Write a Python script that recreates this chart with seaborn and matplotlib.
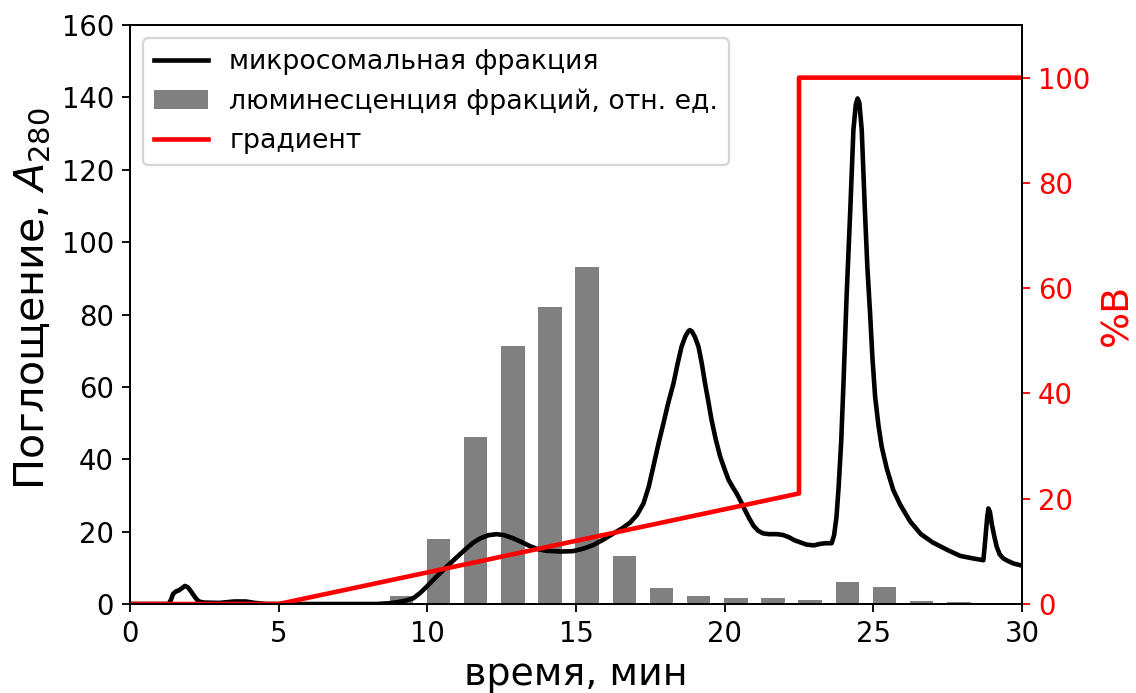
import numpy as np
import pandas as pd
import matplotlib
matplotlib.use("Agg")
import matplotlib.pyplot as plt
import seaborn as sns

# --- data ---
time_min = [0.0, 1.3, 1.38, 1.45, 1.55, 1.65, 1.75, 1.85, 1.95, 2.05, 2.15, 2.25, 2.35,
            2.5, 3.0, 3.5, 3.9, 4.2, 4.6,
            8.3, 8.7, 9.0, 9.3, 9.53, 9.75, 9.98, 10.3, 10.65, 11.0, 11.32, 11.55, 11.77,
            12.05, 12.33, 12.6, 12.9, 13.2, 13.45, 13.7, 14.0, 14.5, 14.9, 15.25, 15.58,
            15.9, 16.26, 16.55, 16.82, 17.05, 17.27, 17.45, 17.6, 17.78, 17.94, 18.1,
            18.28, 18.42, 18.55, 18.68, 18.78, 18.83, 18.9, 19.0, 19.12, 19.23, 19.34,
            19.45, 19.56, 19.7, 19.85, 20.0, 20.13, 20.27, 20.4, 20.54, 20.68, 20.83,
            20.97, 21.13, 21.3, 21.5, 21.75, 21.95, 22.15, 22.35, 22.55, 22.76, 23.0,
            23.2, 23.4, 23.6, 23.68, 23.76, 23.83, 23.92, 24.0, 24.1, 24.22, 24.33,
            24.41, 24.47, 24.53, 24.61, 24.72, 24.8, 24.89, 24.97, 25.06, 25.17, 25.28,
            25.45, 25.67, 25.9, 26.24, 26.6, 27.0, 27.5, 27.92, 28.35, 28.7, 28.74,
            28.79, 28.83, 28.87, 28.92, 28.98, 29.06, 29.15, 29.25, 29.37, 29.5, 29.71,
            30.0]
absorbance = [0.0, 0.0, 1.2, 2.8, 3.5, 3.8, 4.4, 5.0, 4.6, 3.5, 2.3, 1.2, 0.6,
              0.4, 0.3, 0.7, 0.7, 0.3, 0.0,
              0.0, 0.2, 0.5, 1.0, 1.6, 3.0, 4.8, 7.5, 10.3, 13.0, 15.4, 17.0, 18.1,
              19.0, 19.3, 19.0, 18.1, 17.0, 16.0, 15.2, 14.7, 14.5, 14.6, 15.3, 16.3,
              17.7, 19.5, 20.9, 22.5, 24.6, 27.8, 32.5, 38.0, 44.5, 49.9, 55.5,
              61.0, 66.5, 71.1, 74.0, 75.4, 75.7, 75.3, 73.8, 71.1, 66.5, 61.0,
              56.0, 50.8, 45.5, 40.7, 37.2, 34.3, 32.3, 30.6, 28.4, 26.0, 23.6,
              21.6, 20.2, 19.5, 19.3, 19.3, 19.1, 18.5, 17.6, 17.0, 16.4, 16.2,
              16.6, 16.8, 16.8, 19.0, 24.0, 32.0, 45.0, 61.9, 84.9, 108.0, 131.0,
              138.0, 139.7, 138.5, 131.0, 108.0, 93.0, 80.4, 68.0, 57.3, 49.5, 43.5,
              37.5, 31.5, 27.5, 22.8, 19.3, 17.0, 14.9, 13.3, 12.6, 12.1, 15.5,
              20.4, 24.0, 26.4, 25.5, 22.3, 19.0, 15.8, 13.7, 12.6, 12.0, 11.2,
              10.6]

fraction_time = [9.125, 10.375, 11.625, 12.875, 14.125, 15.375, 16.625, 17.875,
                 19.125, 20.375, 21.625, 22.875, 24.125, 25.375, 26.625, 27.875]
luminescence = [2.3, 18.0, 46.2, 71.3, 82.0, 93.1, 13.2, 4.3,
                2.3, 1.6, 1.6, 1.2, 6.2, 4.7, 0.8, 0.5]

gradient_time = [0.0, 5.0, 22.5, 22.5, 30.0]
gradient_pct = [0.0, 0.0, 21.0, 100.0, 100.0]

x_ticks = [0, 5, 10, 15, 20, 25, 30]

# --- figure ---
DPI = 165
fig = plt.figure(figsize=(1136 / DPI, 693 / DPI), dpi=DPI)
ax = fig.add_axes([130 / 1136, 1 - 604 / 693, (1022 - 130) / 1136, (604 - 25) / 693])
ax2 = ax.twinx()

df_line = pd.DataFrame({"t": time_min, "a": absorbance})
df_bar = pd.DataFrame({"t": fraction_time, "v": luminescence})
df_grad = pd.DataFrame({"t": gradient_time, "p": gradient_pct})

sns.barplot(data=df_bar, x="t", y="v", native_scale=True, width=0.63,
            color="gray", saturation=1, ax=ax, label="люминесценция фракций, отн. ед.",
            zorder=1)
sns.lineplot(data=df_line, x="t", y="a", color="black", linewidth=2.0,
             estimator=None, sort=False, ax=ax, label="микросомальная фракция", zorder=2)
sns.lineplot(data=df_grad, x="t", y="p", color="red", linewidth=2.0,
             estimator=None, sort=False, ax=ax2, label="градиент")

ax.set_xlim(0, 30)
ax.set_ylim(0, 160)
ax.set_xticks(x_ticks)
ax.set_xticklabels([str(v) for v in x_ticks])
ax2.set_ylim(0, 110)

ax.tick_params(labelsize=12)
ax2.tick_params(labelsize=12)
ax.set_xlabel("время, мин", fontsize=16.5)
ax.set_ylabel("Поглощение, $A_{280}$", fontsize=18, y=0.528)
ax2.set_ylabel("%B", fontsize=16.5, color="red")
ax2.tick_params(axis="y", colors="red")
ax2.spines["right"].set_color("black")

# combined legend
if ax.get_legend() is not None:
    ax.get_legend().remove()
if ax2.get_legend() is not None:
    ax2.get_legend().remove()
h1, l1 = ax.get_legend_handles_labels()
h2, l2 = ax2.get_legend_handles_labels()
handles = dict(zip(l1 + l2, h1 + h2))
order = ["микросомальная фракция", "люминесценция фракций, отн. ед.", "градиент"]
ax2.legend([handles[k] for k in order], order, loc="upper left", fontsize=11.7)

fig.savefig("out.png", dpi=DPI)
